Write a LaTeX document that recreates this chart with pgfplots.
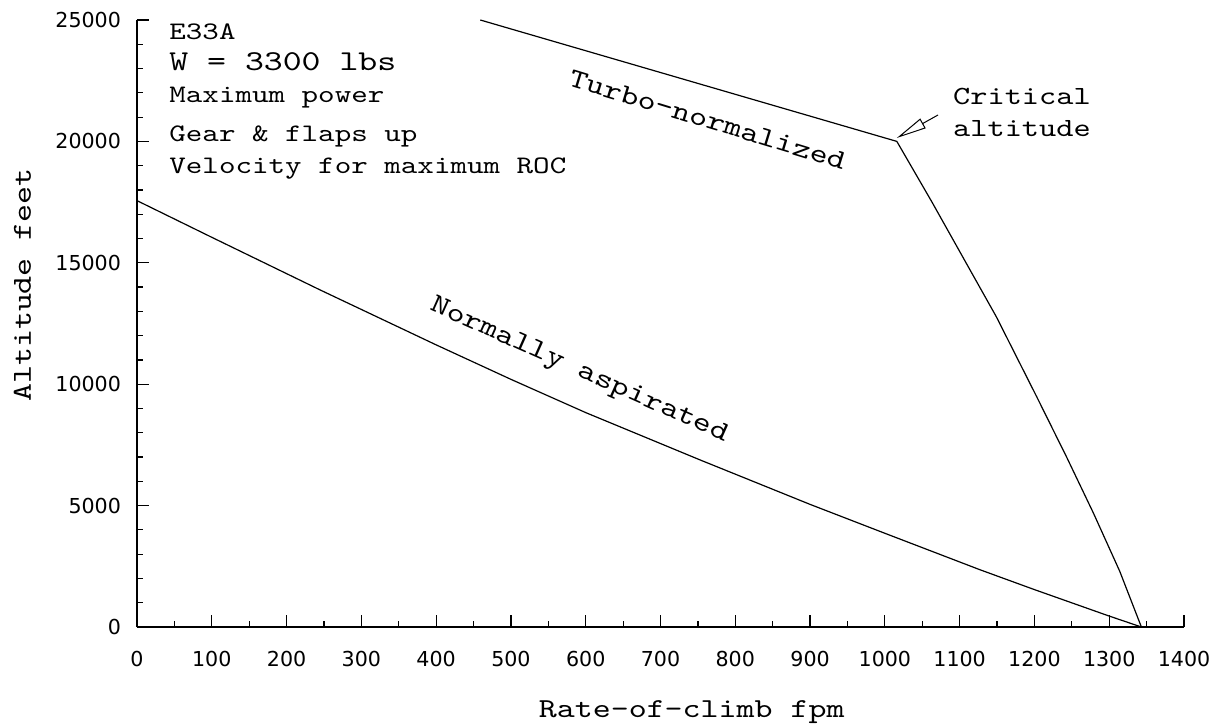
\documentclass[border=0pt]{standalone}
\usepackage{fontspec}
\newfontfamily\cour{lmmono10-regular.otf}[FakeStretch=1.25]
\newfontfamily\tickfont{DejaVu Sans}
\usepackage{pgfplots}
\pgfplotsset{compat=1.18}
\usetikzlibrary{arrows.meta}
\begin{document}
\begin{tikzpicture}
\useasboundingbox (-68.5pt,-50pt) rectangle (543.5pt,313.5pt);
\begin{axis}[
  at={(0pt,0pt)}, anchor=south west,
  scale only axis, width=523.5pt, height=303.5pt,
  xmin=0, xmax=1400, ymin=0, ymax=25000,
  axis lines*=left,
  axis line style={-, line width=0.6pt},
  every tick/.style={black, line width=0.6pt},
  tick align=inside,
  major tick length=6pt, minor tick length=3pt,
  xtick={0,100,...,1400}, minor x tick num=1,
  ytick={0,5000,...,25000}, minor y tick num=4,
  scaled ticks=false,
  /pgf/number format/.cd, 1000 sep={}, assume math mode=true,
  /pgfplots/.cd,
  ticklabel style={font=\tickfont\fontsize{10.3}{12}\selectfont},
  xticklabel style={yshift=-8.5pt},
  yticklabel style={xshift=-4.5pt},
  xlabel={Rate-of-climb fpm},
  ylabel={Altitude feet},
  label style={font=\cour\fontsize{13.7}{16}\selectfont},
  xlabel style={at={(axis description cs:0.5298,-0.140)}, anchor=center},
  ylabel style={at={(axis description cs:-0.1094,0.5634)}, anchor=center, rotate=0},
]
\addplot[black, line width=0.6pt] coordinates {
 (0,17560) (100,16050) (245,13880) (400,11620) (500,10200) (600,8830) (753,6880)
 (900,5050) (1000,3860) (1127,2360) (1200,1540) (1300,450) (1343,0)
};
\addplot[black, line width=0.6pt] coordinates {
 (459,25000) (1016,20000) (1063,17500) (1114,14700) (1149,12780) (1203,9485)
 (1243,7000) (1279,4683) (1314,2300) (1343,0)
};
\end{axis}
\begin{scope}[every node/.style={inner sep=0pt, anchor=base west}]
\node[font=\cour\fontsize{12.6}{14}\selectfont] at (16pt,293.75pt) {E33A};
\node[font=\cour\fontsize{14.4}{16}\selectfont] at (16pt,278pt) {W = 3300 lbs};
\node[font=\cour\fontsize{12.6}{14}\selectfont] at (16pt,262pt) {Maximum power};
\node[font=\cour\fontsize{12.6}{14}\selectfont] at (16pt,242.5pt) {Gear \& flaps up};
\node[font=\cour\fontsize{12.6}{14}\selectfont] at (16pt,226.5pt) {Velocity for maximum ROC};
\node[font=\cour\fontsize{13.1}{15}\selectfont] at (407.9pt,261pt) {Critical};
\node[font=\cour\fontsize{13.1}{15}\selectfont] at (407.9pt,245pt) {altitude};
\end{scope}
\node[font=\cour\fontsize{13.7}{16}\selectfont, rotate=-17, inner sep=0pt] at (285.25pt,253.6pt) {Turbo-normalized};
\node[font=\cour\fontsize{13.7}{16}\selectfont, rotate=-24, inner sep=0pt] at (221pt,128pt) {Normally aspirated};
\draw[line width=0.5pt, -{Triangle[open, length=15pt, width=5.5pt]}] (400.5pt,256pt) -- (379.9pt,244.5pt);
\end{tikzpicture}
\end{document}
